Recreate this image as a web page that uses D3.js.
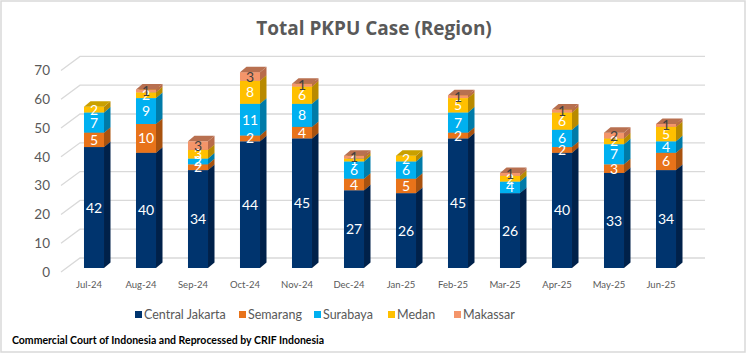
<!DOCTYPE html>
<html><head><meta charset="utf-8">
<script src="https://cdn.jsdelivr.net/npm/d3@7"></script>
<style>body{margin:0;background:#fff}svg{display:block}</style>
</head><body>
<svg id="c" width="748" height="355"></svg>
<script>
const months = ["Jul-24","Aug-24","Sep-24","Oct-24","Nov-24","Dec-24","Jan-25","Feb-25","Mar-25","Apr-25","May-25","Jun-25"];
const seriesNames = ["Central Jakarta","Semarang","Surabaya","Medan","Makassar"];
const centralJakarta = [42,40,34,44,45,27,26,45,26,40,33,34];
const semarang       = [5,10,2,2,4,4,5,2,0,2,3,6];
const surabaya       = [7,9,2,11,8,6,6,7,4,6,7,4];
const medan          = [2,2,3,8,6,1,2,5,2,6,2,5];
const makassar       = [0,1,3,3,1,1,0,1,1,1,2,1];
const yTicks = [0,10,20,30,40,50,60,70];

const values = [centralJakarta, semarang, surabaya, medan, makassar];
const frontCol = ["#00346e","#e8731a","#00b0f0","#ffc000","#f4956a"];
const sideCol  = ["#00214a","#a8520f","#007ba8","#b88a00","#b86b4a"];
const topCol   = ["#1a4a80","#c86010","#1aa0d8","#c9a000","#b87050"];
const labelCol = ["#fff","#fff","#fff","#fff","#404040"];

const svg = d3.select("#c");
const font = "Lato, 'Open Sans', sans-serif";

svg.append("rect").attr("x",1).attr("y",1).attr("width",744).attr("height",351)
  .attr("fill","#fff").attr("stroke","#d9d9d9").attr("stroke-width",1.5);

svg.append("text").attr("x",374).attr("y",35).attr("text-anchor","middle")
  .attr("font-family","'Open Sans', sans-serif").attr("font-weight","bold").attr("font-size",19)
  .attr("fill","#595959").text("Total PKPU Case (Region)");

const y = d3.scaleLinear().domain([0,70]).range([268, 66.4]);
const x = d3.scaleBand().domain(months).range([68,692]).paddingInner(0.615).paddingOuter(0.3075);
const bw = x.bandwidth();
const dx = 6.5, dy = -5.5;

// gridlines
const g = svg.append("g");
yTicks.forEach(v => {
  const yf = y(v)+4, yb = y(v)-10;
  g.append("path").attr("d",`M61,${yf}L80,${yb}L705,${yb}`)
    .attr("fill","none").attr("stroke","#d9d9d9").attr("stroke-width",1.3);
  g.append("text").attr("x",50).attr("y",yf).attr("dy","0.35em").attr("text-anchor","end")
    .attr("font-family",font).attr("font-size",13.5).attr("fill","#595959").text(v);
});

// bars
const stack = months.map((m,i) => {
  let base = 0;
  return values.map((s,k) => { const seg = {m, k, v:s[i], y0:base, y1:base+s[i]}; base += s[i]; return seg; });
});
stack.forEach(segs => {
  const gb = svg.append("g");
  segs.filter(s => s.v > 0).forEach(s => {
    const xl = x(s.m), xr = xl + bw, yb = y(s.y0), yt = y(s.y1);
    gb.append("rect").attr("x",xl).attr("y",yt).attr("width",bw).attr("height",yb-yt).attr("fill",frontCol[s.k]);
    gb.append("path").attr("d",`M${xr},${yb}L${xr+dx},${yb+dy}L${xr+dx},${yt+dy}L${xr},${yt}Z`).attr("fill",sideCol[s.k]);
    gb.append("path").attr("d",`M${xl},${yt}L${xl+dx},${yt+dy}L${xr+dx},${yt+dy}L${xr},${yt}Z`).attr("fill",topCol[s.k]);
  });
  segs.filter(s => s.v > 0).forEach(s => {
    gb.append("text").attr("x",x(s.m)+bw/2).attr("y",(y(s.y0)+y(s.y1))/2).attr("dy","0.36em")
      .attr("text-anchor","middle").attr("font-family",font).attr("font-size",14)
      .attr("fill",labelCol[s.k]).text(s.v);
  });
});

// x labels
months.forEach(m => {
  svg.append("text").attr("x",x(m)+bw/2-5).attr("y",285).attr("dy","0.35em").attr("text-anchor","middle")
    .attr("font-family",font).attr("font-size",9.5).attr("fill","#595959").text(m);
});

// legend
const legX = [135,239,314,388,454];
seriesNames.forEach((n,k) => {
  svg.append("rect").attr("x",legX[k]).attr("y",311).attr("width",7).attr("height",7).attr("fill",frontCol[k]);
  svg.append("text").attr("x",legX[k]+9).attr("y",314.5).attr("dy","0.35em")
    .attr("font-family",font).attr("font-size",12.5).attr("fill","#595959").text(n);
});

svg.append("text").attr("x",12).attr("y",344).attr("font-family",font)
  .attr("font-weight","bold").attr("font-size",10.5).attr("fill","#000")
  .text("Commercial Court of Indonesia and Reprocessed by CRIF Indonesia");
</script>
</body></html>
